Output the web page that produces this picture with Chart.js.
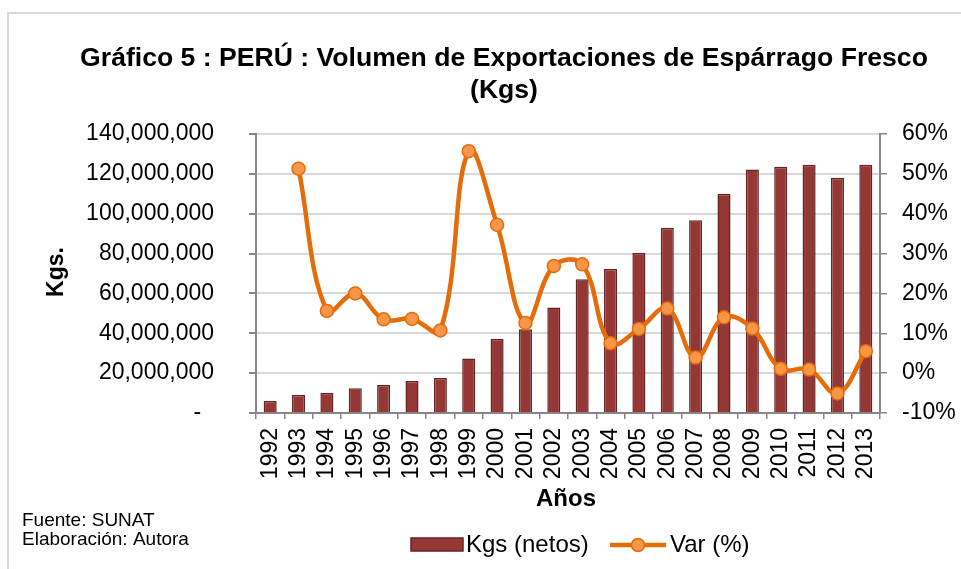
<!DOCTYPE html>
<html>
<head>
<meta charset="utf-8">
<script src="https://cdn.jsdelivr.net/npm/chart.js@4/dist/chart.umd.min.js"></script>
<style>
  html, body { margin: 0; padding: 0; background: #fff; }
  #wrap { width: 961px; height: 569px; position: relative; }
</style>
</head>
<body>
<div id="wrap"><canvas id="c" width="961" height="569"></canvas></div>
<script>
// ---- data ----
const years = ['1992','1993','1994','1995','1996','1997','1998','1999','2000','2001','2002','2003','2004','2005','2006','2007','2008','2009','2010','2011','2012','2013'];
const kgsNetos = [6000000, 9000000, 10200000, 12400000, 14000000, 16000000, 17600000, 27300000, 37100000, 42000000, 53000000, 67100000, 72300000, 80300000, 93000000, 96700000, 110000000, 122200000, 123600000, 124600000, 118100000, 124600000];
const varPct = [null, 51.3, 15.6, 20.0, 13.5, 13.6, 10.7, 55.7, 37.2, 12.6, 26.9, 27.3, 7.5, 11.1, 16.2, 3.9, 14.0, 11.2, 1.1, 0.9, -5.1, 5.5];
const leftTicks = { min: 0, max: 140000000, step: 20000000 };
const rightTicks = { min: -10, max: 60, step: 10 };
const titleLines = ['Gráfico 5 : PERÚ : Volumen de Exportaciones de Espárrago Fresco', '(Kgs)'];
const yTitle = 'Kgs.';
const xTitle = 'Años';
const seriesNames = ['Kgs (netos)', 'Var (%)'];
const notes = ['Fuente: SUNAT', 'Elaboración: Autora'];

const FONT = '"Liberation Sans", Arial, Helvetica, sans-serif';
Chart.defaults.font.family = FONT;
Chart.defaults.color = '#000';

const BAR = '#953735', BAR_BORDER = '#632523';
const LINE = '#E46C0A', POINT = '#F79646';
const AXIS = '#868686', GRID = '#d9d9d9';

const decor = {
  id: 'decor',
  afterDraw(chart) {
    const ctx = chart.ctx;
    ctx.save();
    // frame
    ctx.strokeStyle = GRID; ctx.lineWidth = 2;
    ctx.beginPath(); ctx.moveTo(8, 569); ctx.lineTo(8, 13); ctx.lineTo(961, 13); ctx.stroke();
    // title
    ctx.fillStyle = '#000';
    ctx.textAlign = 'center'; ctx.textBaseline = 'alphabetic';
    ctx.font = 'bold 26.6px ' + FONT;
    ctx.fillText(titleLines[0], 504, 66);
    ctx.fillText(titleLines[1], 504, 98);
    // y title
    ctx.save();
    ctx.translate(57, 272); ctx.rotate(-Math.PI / 2);
    ctx.font = 'bold 23px ' + FONT; ctx.textBaseline = 'middle';
    ctx.fillText(yTitle, 0, 0);
    ctx.restore();
    // x title
    ctx.font = 'bold 24px ' + FONT; ctx.textBaseline = 'middle';
    ctx.fillText(xTitle, 566, 499);
    // notes
    ctx.textAlign = 'left'; ctx.textBaseline = 'alphabetic';
    ctx.font = '19px ' + FONT;
    ctx.fillText(notes[0], 22, 526);
    ctx.fillText(notes[1], 22, 545);
    // legend
    const ly = 545;
    ctx.fillStyle = BAR; ctx.strokeStyle = BAR_BORDER; ctx.lineWidth = 1.5;
    ctx.fillRect(411, 538, 52, 13); ctx.strokeRect(411, 538, 52, 13);
    ctx.fillStyle = '#000'; ctx.font = '24px ' + FONT; ctx.textBaseline = 'middle';
    ctx.fillText(seriesNames[0], 466, ly);
    ctx.strokeStyle = LINE; ctx.lineWidth = 4.5;
    ctx.beginPath(); ctx.moveTo(610, ly); ctx.lineTo(666, ly); ctx.stroke();
    ctx.beginPath(); ctx.arc(638, ly, 6.5, 0, Math.PI * 2);
    ctx.fillStyle = POINT; ctx.fill(); ctx.lineWidth = 1.5; ctx.stroke();
    ctx.fillStyle = '#000';
    ctx.fillText(seriesNames[1], 670, ly);
    ctx.restore();
  }
};

new Chart(document.getElementById('c'), {
  data: {
    labels: years,
    datasets: [
      {
        type: 'line', label: seriesNames[1], data: varPct, yAxisID: 'y2', order: 0,
        borderColor: LINE, borderWidth: 4.5, tension: 0.4,
        pointRadius: 6.5, pointBackgroundColor: POINT, pointBorderColor: LINE, pointBorderWidth: 1.5
      },
      {
        type: 'bar', label: seriesNames[0], data: kgsNetos, yAxisID: 'y', order: 1,
        backgroundColor: BAR, borderColor: BAR_BORDER, borderWidth: 1.5,
        barPercentage: 0.46, categoryPercentage: 1
      }
    ]
  },
  options: {
    responsive: false, animation: false,
    layout: { padding: { top: 134, left: 0, right: 0, bottom: 0 } },
    plugins: { legend: { display: false }, title: { display: false }, tooltip: { enabled: false } },
    scales: {
      x: {
        offset: true,
        grid: { display: true, drawOnChartArea: false, offset: true, color: AXIS, tickLength: 6, lineWidth: 1.5 },
        border: { color: AXIS, width: 2 },
        ticks: { autoSkip: false, maxRotation: 90, minRotation: 90, padding: 9, font: { size: 23 }, color: '#000' },
        afterFit(s) { s.height = 156; }
      },
      y: {
        position: 'left', min: leftTicks.min, max: leftTicks.max,
        grid: { color: GRID, lineWidth: 2, tickColor: AXIS, tickLength: 7 },
        border: { color: AXIS, width: 2 },
        ticks: {
          stepSize: leftTicks.step, padding: 35, font: { size: 23 }, color: '#000',
          callback: v => v === 0 ? '-  ' : v.toLocaleString('en-US')
        },
        afterFit(s) { s.width = 256; }
      },
      y2: {
        position: 'right', min: rightTicks.min, max: rightTicks.max,
        grid: { drawOnChartArea: false, tickColor: AXIS, tickLength: 7, lineWidth: 1.5 },
        border: { color: AXIS, width: 2 },
        ticks: { stepSize: rightTicks.step, padding: 15, font: { size: 23 }, color: '#000', callback: v => v + '%' },
        afterFit(s) { s.width = 81; }
      }
    }
  },
  plugins: [decor]
});
</script>
</body>
</html>
